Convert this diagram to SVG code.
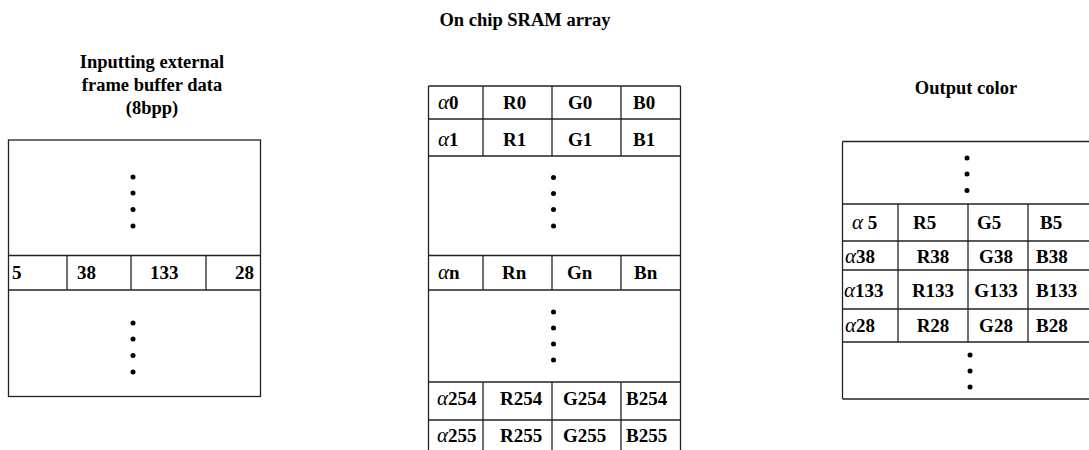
<svg xmlns="http://www.w3.org/2000/svg" width="1089" height="450" viewBox="0 0 1089 450">
<style>
.ln{stroke:#222;stroke-width:1.3;fill:none}
.t{font-family:"Liberation Serif","Times New Roman",serif;font-weight:bold;font-size:19px;fill:#000}
.h{font-family:"Liberation Serif","Times New Roman",serif;font-weight:bold;font-size:18.5px;fill:#000;text-anchor:middle}
.a{font-style:italic;font-weight:normal;font-size:21px}
.c{text-anchor:middle}
.d{fill:#000}
</style>
<rect width="1089" height="450" fill="#fff"/>

<g id="title-input">
<text class="h" x="152" y="68">Inputting external</text>
<text class="h" x="152" y="91">frame buffer data</text>
<text class="h" x="152" y="114">(8bpp)</text>
</g>
<g id="title-sram"><text class="h" x="525" y="26">On chip SRAM array</text></g>
<g id="title-output"><text class="h" x="966" y="94">Output color</text></g>

<g id="input-buffer">
<rect class="ln" x="8.5" y="140" width="252" height="256.5"/>
<line class="ln" x1="8.5" y1="255.5" x2="260.5" y2="255.5"/>
<line class="ln" x1="8.5" y1="290" x2="260.5" y2="290"/>
<line class="ln" x1="67" y1="255.5" x2="67" y2="290"/>
<line class="ln" x1="131" y1="255.5" x2="131" y2="290"/>
<line class="ln" x1="206" y1="255.5" x2="206" y2="290"/>
<text class="t" x="12" y="279">5</text>
<text class="t" x="77" y="279">38</text>
<text class="t" x="150" y="279">133</text>
<text class="t" x="254" y="279" text-anchor="end">28</text>
<g class="d">
<circle cx="133" cy="177" r="2.5"/><circle cx="133" cy="193" r="2.5"/><circle cx="133" cy="209.5" r="2.5"/><circle cx="133" cy="226" r="2.5"/>
<circle cx="133" cy="323" r="2.5"/><circle cx="133" cy="339" r="2.5"/><circle cx="133" cy="355.5" r="2.5"/><circle cx="133" cy="372" r="2.5"/>
</g>
</g>

<g id="sram-array">
<line class="ln" x1="428.5" y1="86" x2="428.5" y2="452"/>
<line class="ln" x1="680.5" y1="86" x2="680.5" y2="452"/>
<line class="ln" x1="428.5" y1="86" x2="680.5" y2="86"/>
<line class="ln" x1="428.5" y1="119" x2="680.5" y2="119"/>
<line class="ln" x1="428.5" y1="156" x2="680.5" y2="156"/>
<line class="ln" x1="428.5" y1="255.5" x2="680.5" y2="255.5"/>
<line class="ln" x1="428.5" y1="290" x2="680.5" y2="290"/>
<line class="ln" x1="428.5" y1="382" x2="680.5" y2="382"/>
<line class="ln" x1="428.5" y1="420" x2="680.5" y2="420"/>
<line class="ln" x1="483" y1="86" x2="483" y2="156"/>
<line class="ln" x1="552" y1="86" x2="552" y2="156"/>
<line class="ln" x1="621" y1="86" x2="621" y2="156"/>
<line class="ln" x1="483" y1="255.5" x2="483" y2="290"/>
<line class="ln" x1="552" y1="255.5" x2="552" y2="290"/>
<line class="ln" x1="621" y1="255.5" x2="621" y2="290"/>
<line class="ln" x1="483" y1="382" x2="483" y2="452"/>
<line class="ln" x1="552" y1="382" x2="552" y2="452"/>
<line class="ln" x1="621" y1="382" x2="621" y2="452"/>
<text class="t" x="438" y="109"><tspan class="a">α</tspan>0</text>
<text class="t" x="503" y="109">R0</text>
<text class="t" x="568" y="109">G0</text>
<text class="t" x="633" y="109">B0</text>
<text class="t" x="438" y="146"><tspan class="a">α</tspan>1</text>
<text class="t" x="503" y="146">R1</text>
<text class="t" x="568" y="146">G1</text>
<text class="t" x="633" y="146">B1</text>
<text class="t" x="438" y="279"><tspan class="a">α</tspan>n</text>
<text class="t" x="502" y="279">Rn</text>
<text class="t" x="567" y="279">Gn</text>
<text class="t" x="634" y="279">Bn</text>
<text class="t" x="437" y="405"><tspan class="a">α</tspan>254</text>
<text class="t" x="500" y="405">R254</text>
<text class="t" x="563" y="405">G254</text>
<text class="t" x="626" y="405">B254</text>
<text class="t" x="437" y="442"><tspan class="a">α</tspan>255</text>
<text class="t" x="500" y="442">R255</text>
<text class="t" x="563" y="442">G255</text>
<text class="t" x="626" y="442">B255</text>
<g class="d">
<circle cx="553.5" cy="177.5" r="2.5"/><circle cx="553.5" cy="193.5" r="2.5"/><circle cx="553.5" cy="209.5" r="2.5"/><circle cx="553.5" cy="226" r="2.5"/>
<circle cx="553.5" cy="312" r="2.5"/><circle cx="553.5" cy="328" r="2.5"/><circle cx="553.5" cy="344" r="2.5"/><circle cx="553.5" cy="360" r="2.5"/>
</g>
</g>

<g id="output-color">
<line class="ln" x1="842.5" y1="141.5" x2="1092" y2="141.5"/>
<line class="ln" x1="842.5" y1="141.5" x2="842.5" y2="399"/>
<line class="ln" x1="842.5" y1="399" x2="1092" y2="399"/>
<line class="ln" x1="842.5" y1="204" x2="1092" y2="204"/>
<line class="ln" x1="842.5" y1="241" x2="1092" y2="241"/>
<line class="ln" x1="842.5" y1="270" x2="1092" y2="270"/>
<line class="ln" x1="842.5" y1="309" x2="1092" y2="309"/>
<line class="ln" x1="842.5" y1="342" x2="1092" y2="342"/>
<line class="ln" x1="898" y1="204" x2="898" y2="342"/>
<line class="ln" x1="968" y1="204" x2="968" y2="342"/>
<line class="ln" x1="1028" y1="204" x2="1028" y2="342"/>
<text class="t" x="852" y="229"><tspan class="a">α</tspan> 5</text>
<text class="t" x="913" y="229">R5</text>
<text class="t" x="977" y="229">G5</text>
<text class="t" x="1040" y="229">B5</text>
<text class="t" x="845" y="263"><tspan class="a">α</tspan>38</text>
<text class="t c" x="933" y="263">R38</text>
<text class="t c" x="996" y="263">G38</text>
<text class="t" x="1036" y="263">B38</text>
<text class="t" x="844" y="297"><tspan class="a">α</tspan>133</text>
<text class="t c" x="933" y="297">R133</text>
<text class="t c" x="996" y="297">G133</text>
<text class="t" x="1036" y="297">B133</text>
<text class="t" x="845" y="332"><tspan class="a">α</tspan>28</text>
<text class="t c" x="933" y="332">R28</text>
<text class="t c" x="996" y="332">G28</text>
<text class="t" x="1036" y="332">B28</text>
<g class="d">
<circle cx="967" cy="158" r="2.5"/><circle cx="967" cy="174" r="2.5"/><circle cx="967" cy="190.5" r="2.5"/>
<circle cx="970" cy="355" r="2.5"/><circle cx="970" cy="371" r="2.5"/><circle cx="970" cy="387" r="2.5"/>
</g>
</g>
</svg>
